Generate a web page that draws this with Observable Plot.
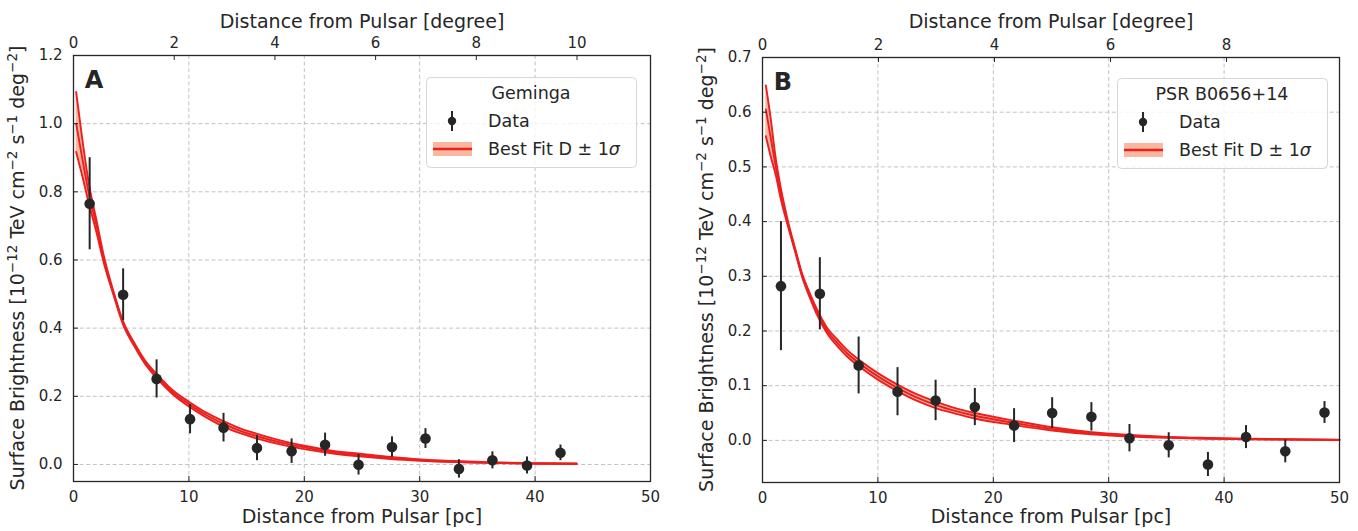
<!DOCTYPE html>
<html><head><meta charset="utf-8">
<script src="https://cdn.jsdelivr.net/npm/d3@7"></script>
<script src="https://cdn.jsdelivr.net/npm/@observablehq/plot@0.6"></script>
<style>
body{margin:0;background:#fff;}
#wrap{display:flex;width:1358px;height:531px;overflow:hidden}
.panel{position:relative}
.panel svg{display:block}
.legend{position:absolute;overflow:visible}
</style></head><body><div id="wrap"></div><script>
// ---------- data: panel A (Geminga) ----------
const geminga_pc   = [1.4, 4.3, 7.2, 10.1, 13.0, 15.9, 18.9, 21.8, 24.7, 27.6, 30.5, 33.4, 36.3, 39.3, 42.2];
const geminga_sb   = [0.765, 0.498, 0.251, 0.133, 0.108, 0.048, 0.039, 0.058, -0.001, 0.051, 0.076, -0.013, 0.012, -0.003, 0.034];
const geminga_err  = [0.135, 0.076, 0.056, 0.043, 0.042, 0.037, 0.036, 0.034, 0.030, 0.030, 0.029, 0.027, 0.025, 0.025, 0.023];
const gemingaFit_pc = [0.23, 0.7, 1.3, 2.0, 2.64, 3.4, 4.3, 5.3, 6.2, 7.2, 8.5, 10, 11.5, 13, 14.5, 16, 18, 20, 22.5, 25, 27.5, 30, 33, 36.5, 40, 43.6];
const gemingaFit    = [1.0, 0.91, 0.80, 0.70, 0.60, 0.51, 0.415, 0.35, 0.30, 0.26, 0.215, 0.177, 0.145, 0.119, 0.098, 0.082, 0.064, 0.050, 0.036, 0.027, 0.019, 0.013, 0.008, 0.005, 0.003, 0.002];
const gemingaFitLo  = [0.917, 0.855, 0.77, 0.68, 0.59, 0.505, 0.41, 0.345, 0.295, 0.254, 0.209, 0.170, 0.138, 0.111, 0.091, 0.075, 0.058, 0.045, 0.032, 0.023, 0.016, 0.011, 0.007, 0.004, 0.002, 0.001];
const gemingaFitHi  = [1.093, 0.97, 0.83, 0.715, 0.61, 0.515, 0.42, 0.355, 0.305, 0.266, 0.221, 0.184, 0.152, 0.127, 0.105, 0.089, 0.070, 0.055, 0.040, 0.031, 0.022, 0.015, 0.010, 0.006, 0.004, 0.003];
const geminga_distance_pc = 250;
const gemingaYTicks = [0.0, 0.2, 0.4, 0.6, 0.8, 1.0, 1.2];
const gemingaDegTicks = [0, 2, 4, 6, 8, 10];

// ---------- data: panel B (PSR B0656+14) ----------
const b0656_pc   = [1.6, 4.97, 8.33, 11.7, 15.0, 18.4, 21.8, 25.1, 28.5, 31.8, 35.2, 38.6, 41.9, 45.3, 48.7];
const b0656_sb   = [0.282, 0.268, 0.137, 0.089, 0.073, 0.061, 0.027, 0.050, 0.043, 0.004, -0.009, -0.044, 0.006, -0.020, 0.051];
const b0656_err  = [0.118, 0.066, 0.052, 0.044, 0.037, 0.034, 0.031, 0.028, 0.026, 0.025, 0.023, 0.022, 0.021, 0.021, 0.020];
const b0656Fit_pc = [0.29, 0.7, 1.15, 1.6, 2.16, 2.8, 3.46, 4.1, 4.76, 5.62, 6.5, 7.4, 8.33, 10, 11.7, 13.3, 15, 16.7, 18.4, 21.8, 25.1, 28.5, 31.8, 35.2, 38.6, 42, 45.3, 50];
const b0656Fit    = [0.605, 0.555, 0.50, 0.45, 0.40, 0.35, 0.30, 0.265, 0.233, 0.20, 0.178, 0.158, 0.142, 0.117, 0.096, 0.079, 0.065, 0.054, 0.045, 0.032, 0.021, 0.013, 0.0086, 0.0055, 0.0037, 0.0025, 0.0018, 0.001];
const b0656FitLo  = [0.556, 0.52, 0.485, 0.44, 0.395, 0.347, 0.297, 0.261, 0.228, 0.195, 0.172, 0.152, 0.136, 0.111, 0.090, 0.073, 0.059, 0.049, 0.040, 0.028, 0.018, 0.011, 0.007, 0.0045, 0.003, 0.002, 0.0014, 0.0008];
const b0656FitHi  = [0.649, 0.59, 0.515, 0.46, 0.405, 0.353, 0.303, 0.269, 0.238, 0.205, 0.184, 0.164, 0.148, 0.123, 0.102, 0.085, 0.071, 0.059, 0.050, 0.036, 0.024, 0.015, 0.010, 0.0065, 0.0045, 0.003, 0.0022, 0.0014];
const b0656_distance_pc = 288;
const b0656YTicks = [0.0, 0.1, 0.2, 0.3, 0.4, 0.5, 0.6, 0.7];
const b0656DegTicks = [0, 2, 4, 6, 8];

const xTicks = [0, 10, 20, 30, 40, 50];
const xGrid = [10, 20, 30, 40];

const RED = "#ec1f1f", SALMON = "#f9b7a0", INK = "#262626", GRID = "#c2c2c2";
const FONT = "DejaVu Sans, sans-serif";

function makePanel(cfg) {
  const data = cfg.x.map((x, i) => ({x, y: cfg.y[i], e: cfg.err[i]}));
  const fit = cfg.fitX.map((x, i) => ({x, c: cfg.fit[i], lo: cfg.lo[i], hi: cfg.hi[i]}));
  const innerW = cfg.width - cfg.ml - cfg.mr;
  const innerH = cfg.height - cfg.mt - cfg.mb;
  const pcPerDeg = cfg.dist * Math.PI / 180;
  const degTicksPc = cfg.degTicks.map(d => d * pcPerDeg);
  const lineOpts = {x: "x", stroke: RED, strokeWidth: 1.9, curve: "monotone-x"};
  const svg = Plot.plot({
    width: cfg.width, height: cfg.height,
    marginLeft: cfg.ml, marginRight: cfg.mr, marginTop: cfg.mt, marginBottom: cfg.mb,
    style: {fontFamily: FONT, fontSize: "15px", color: INK, background: "white", overflow: "visible"},
    x: {domain: [0, 50]},
    y: {domain: cfg.yDomain},
    marks: [
      Plot.gridX(xGrid, {stroke: GRID, strokeOpacity: 1, strokeWidth: 1, strokeDasharray: "4,2.6"}),
      Plot.gridY(cfg.yTicks, {stroke: GRID, strokeOpacity: 1, strokeWidth: 1, strokeDasharray: "4,2.6"}),
      Plot.areaY(fit, {x: "x", y1: "lo", y2: "hi", fill: SALMON, fillOpacity: 1, curve: "monotone-x"}),
      Plot.line(fit, {...lineOpts, y: "lo"}),
      Plot.line(fit, {...lineOpts, y: "hi"}),
      Plot.line(fit, {...lineOpts, y: "c"}),
      Plot.ruleX(data, {x: "x", y1: d => d.y - d.e, y2: d => d.y + d.e, stroke: INK, strokeWidth: 2}),
      Plot.dot(data, {x: "x", y: "y", r: 5.3, fill: INK, stroke: null}),
      Plot.axisX(xTicks, {anchor: "bottom", tickSize: 0, tickPadding: 10, label: null, fontSize: 15, tickFormat: d => String(d)}),
      Plot.axisX(degTicksPc, {anchor: "top", tickSize: 0, tickPadding: 8, label: null, fontSize: 15,
        tickFormat: d => String(Math.round(d / pcPerDeg))}),
      Plot.axisY(cfg.yTicks, {anchor: "left", tickSize: 0, tickPadding: 11, label: null, fontSize: 15,
        tickFormat: d3.format(".1f")}),
      Plot.tickX(xTicks, {x: d => d, insetTop: innerH - 5, stroke: INK, strokeWidth: 1}),
      Plot.tickX(degTicksPc, {x: d => d, insetBottom: innerH - 5, stroke: INK, strokeWidth: 1}),
      Plot.tickY(cfg.yTicks, {y: d => d, insetRight: innerW - 5, stroke: INK, strokeWidth: 1}),
      Plot.frame({stroke: INK, strokeWidth: 1.3}),
      Plot.text(["Distance from Pulsar [pc]"], {frameAnchor: "bottom", dy: cfg.xlabelDy, fontSize: 19, fill: INK}),
      Plot.text(["Distance from Pulsar [degree]"], {frameAnchor: "top", dy: cfg.toplabelDy, fontSize: 19, fill: INK})
    ]
  });
  const s = d3.select(svg);
  // y label with superscripts
  const yl = s.append("text")
    .attr("transform", `translate(${cfg.ylabelX},${cfg.mt + innerH / 2}) rotate(-90)`)
    .attr("text-anchor", "middle").attr("fill", INK)
    .style("font-family", FONT).style("font-size", "19px");
  const parts = [["Surface Brightness [10", 0], ["\u221212", 1], [" TeV cm", 0], ["\u22122", 1], [" s", 0], ["\u22121", 1], [" deg", 0], ["\u22122", 1], ["]", 0]];
  let prevSup = 0;
  parts.forEach(([t, sup]) => {
    const ts = yl.append("tspan").text(t);
    if (sup) ts.style("font-size", "13.5px");
    const dy = sup && !prevSup ? -7 : (!sup && prevSup ? 7 : 0);
    if (dy) ts.attr("dy", dy);
    prevSup = sup;
  });
  // panel letter
  s.append("text").attr("x", cfg.ml + 21).attr("y", cfg.mt + 33)
    .attr("fill", INK).style("font-family", FONT).style("font-weight", "bold").style("font-size", "24px")
    .text(cfg.letter);

  const div = document.createElement("div");
  div.className = "panel";
  div.style.width = cfg.width + "px";
  div.appendChild(svg);

  // legend
  const lg = d3.select(div).append("svg").attr("class", "legend")
    .attr("width", 212).attr("height", 92)
    .style("left", cfg.legend[0] + "px").style("top", cfg.legend[1] + "px");
  lg.append("rect").attr("x", 0.5).attr("y", 0.5).attr("width", 210).attr("height", 90).attr("rx", 4)
    .attr("fill", "white").attr("fill-opacity", 0.8).attr("stroke", "#d6d6d6");
  const txt = (x, y, t, anchor) => lg.append("text").attr("x", x).attr("y", y)
    .attr("text-anchor", anchor || "start").attr("dominant-baseline", "central")
    .attr("fill", INK).style("font-family", FONT).style("font-size", "17.5px").text(t);
  txt(105, 16, cfg.title, "middle");
  lg.append("line").attr("x1", 26).attr("x2", 26).attr("y1", 34).attr("y2", 54).attr("stroke", INK).attr("stroke-width", 2);
  lg.append("circle").attr("cx", 26).attr("cy", 44).attr("r", 4.2).attr("fill", INK);
  txt(62, 44, "Data");
  lg.append("rect").attr("x", 7).attr("y", 65).attr("width", 39).attr("height", 14).attr("fill", SALMON);
  lg.append("line").attr("x1", 7).attr("x2", 46).attr("y1", 72).attr("y2", 72).attr("stroke", RED).attr("stroke-width", 2.5);
  const bf = txt(62, 71.5, "Best Fit D \u00b1 1");
  bf.append("tspan").style("font-style", "italic").text("\u03c3");
  return div;
}

const wrap = document.getElementById("wrap");
wrap.appendChild(makePanel({
  letter: "A", title: "Geminga",
  x: geminga_pc, y: geminga_sb, err: geminga_err,
  fitX: gemingaFit_pc, fit: gemingaFit, lo: gemingaFitLo, hi: gemingaFitHi,
  dist: geminga_distance_pc, degTicks: gemingaDegTicks, yTicks: gemingaYTicks, yDomain: [-0.05, 1.2],
  width: 680, height: 531, ml: 73, mr: 30, mt: 55, mb: 50, ylabelX: 24, legend: [426, 77],
  xlabelDy: 41, toplabelDy: -41
}));
wrap.appendChild(makePanel({
  letter: "B", title: "PSR B0656+14",
  x: b0656_pc, y: b0656_sb, err: b0656_err,
  fitX: b0656Fit_pc, fit: b0656Fit, lo: b0656FitLo, hi: b0656FitHi,
  dist: b0656_distance_pc, degTicks: b0656DegTicks, yTicks: b0656YTicks, yDomain: [-0.077, 0.7],
  width: 678, height: 531, ml: 82, mr: 19, mt: 57, mb: 49, ylabelX: 33, legend: [437, 78],
  xlabelDy: 40, toplabelDy: -43
}));
</script></body></html>
